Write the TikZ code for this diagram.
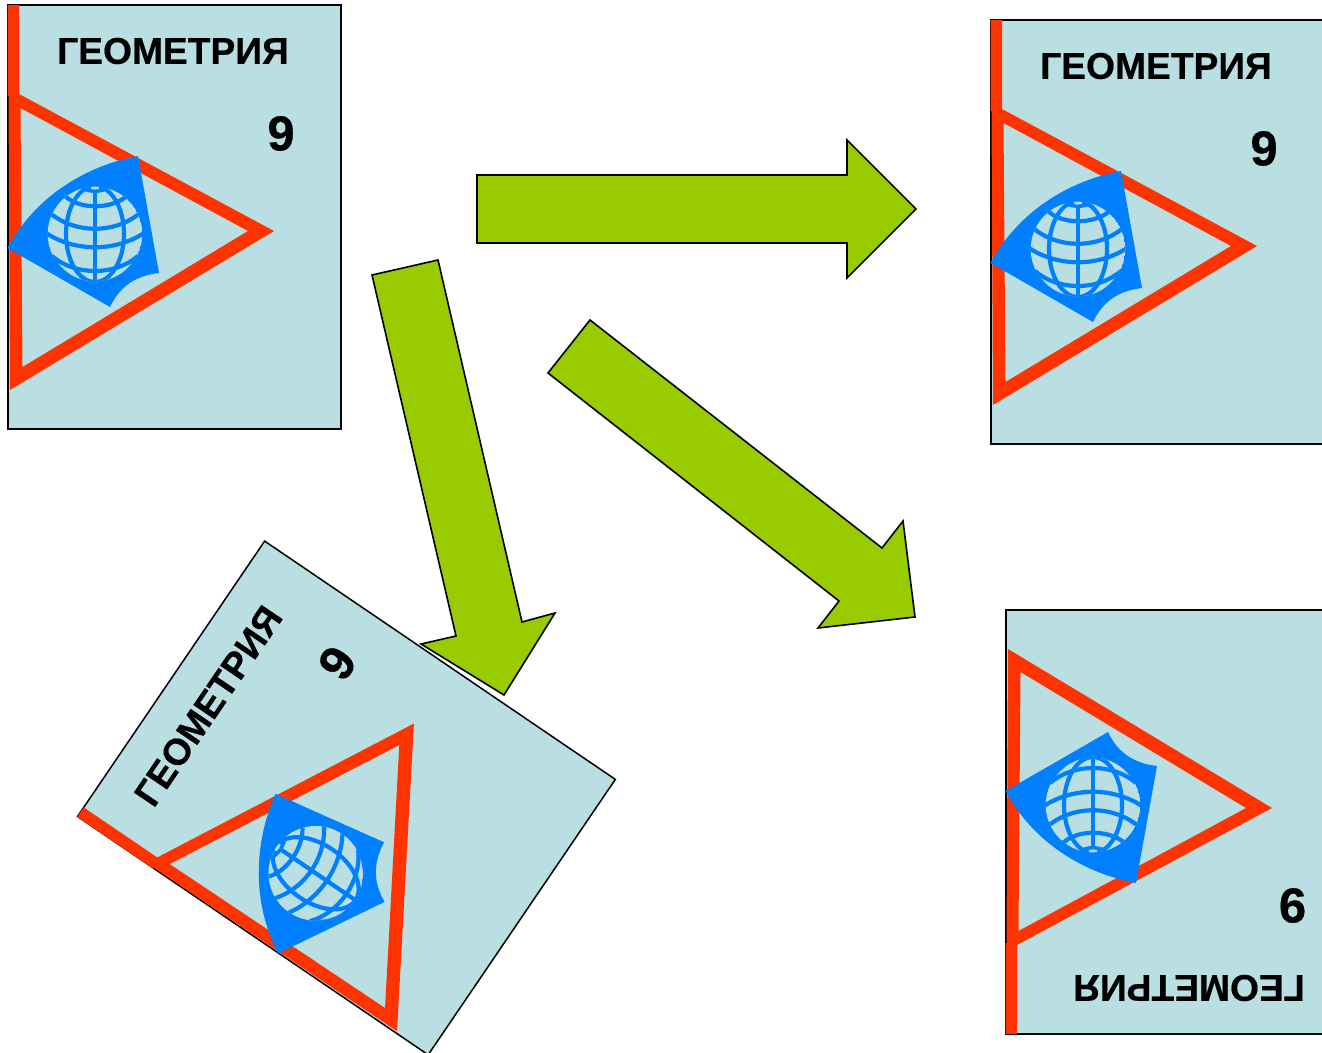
\documentclass[tikz,border=0pt]{standalone}
\usepackage{fontspec}
\setmainfont[BoldFeatures={FakeBold=0.5}]{Liberation Sans}
\definecolor{pagebg}{HTML}{BADFE2}
\definecolor{redline}{HTML}{FF3300}
\definecolor{globeblue}{HTML}{0080FF}
\definecolor{arrowgreen}{HTML}{99CC00}
\tikzset{
  bookpage/.style={fill=pagebg,draw=black,line width=1.5pt},
  redmark/.style={fill=redline,draw=none},
  bluemark/.style={fill=globeblue,draw=none},
  gridline/.style={draw=globeblue,line width=4.2pt},
  blockarrow/.style={fill=arrowgreen,draw=black,line width=1.6pt,line join=miter},
  titletext/.style={font=\fontsize{37.2}{38}\selectfont\bfseries,inner sep=0pt,transform shape,text=black},
  numtext/.style={font=\fontsize{49}{49}\selectfont\bfseries,inner sep=0pt,transform shape,text=black},
  uprighttext/.style={},
  turnedtext/.style={xscale=-1}
}
% #1 name prefix, #2 title x, #3 number x, #4 text style
\newcommand{\bookart}[4]{%
  \draw[bookpage] (8,5) rectangle (341,429);
  \fill[redmark,even odd rule]
    (7.5,5) -- (19,5) -- (19,94) -- (274,231) -- (10,390) -- (8.5,96) -- (7.5,96) -- cycle
    (20.5,108) -- (248,231) -- (22.5,367) -- cycle;
  \fill[bluemark] (138,156) -- (159,273) .. controls (132,276) and (118,290) .. (110,307)
    -- (7.5,248) .. controls (35,197) and (85,166) .. (138,156) -- cycle;
  \begin{scope}
    \clip (95,234) circle [radius=47.3];
    \fill[pagebg] (95,234) circle [radius=47.3];
    \draw[gridline] (95,185) -- (95,283);
    \draw[gridline] (95,234) ellipse [x radius=29,y radius=48];
    \draw[gridline] (64,195) .. controls (78,210) and (112,210) .. (128,195);
    \draw[gridline] (50,213) .. controls (75,234) and (115,234) .. (140,213);
    \draw[gridline] (46,233) .. controls (75,252) and (115,252) .. (144,233);
    \draw[gridline] (52,256) .. controls (75,276) and (115,276) .. (138,256);
    \fill[bluemark] (95,188) ellipse [x radius=13,y radius=5];
    \fill[pagebg] (95,188) ellipse [x radius=4.5,y radius=1.6];
    \fill[bluemark] (55,258) .. controls (60,267) and (68,274) .. (77,278) -- (50,290) -- cycle;
    \fill[bluemark] (135,258) .. controls (130,267) and (122,274) .. (113,278) -- (140,290) -- cycle;
  \end{scope}
  \node[titletext,#4] (#1title) at (#2,51) {ГЕОМЕТРИЯ};
  \node[numtext,#4] (#1num) at (#3,133.5) {9};
}
\begin{document}
\begin{tikzpicture}[x=1pt,y=-1pt]
  \useasboundingbox (0,0) rectangle (1322,1052);
  \clip (0,0) rectangle (1322,1052);
  \draw[blockarrow] (477,175) -- (847,175) -- (847,140) -- (916,209) -- (847,278) -- (847,243) -- (477,243) -- cycle;
  \draw[blockarrow] (372,275) -- (438,260) -- (522,622) -- (555,613) -- (504,695) -- (421,644) -- (456,636) -- cycle;
  \draw[blockarrow] (590,320) -- (548,373) -- (839,601) -- (818,628) -- (915,617) -- (903,521) -- (882,548) -- cycle;
  \begin{scope}
    \bookart{a}{173}{281}{uprighttext}
  \end{scope}
  \begin{scope}[shift={(983,15)}]
    \bookart{b}{173}{281}{uprighttext}
  \end{scope}
  \begin{scope}[shift={(1006,1034)},yscale=-1,shift={(-8,-5)}]
    \bookart{c}{191}{294.5}{turnedtext}
  \end{scope}
  \begin{scope}[shift={(77.5,816.5)},rotate=55.8,shift={(-8,-5)}]
    \bookart{d}{173}{281}{uprighttext}
  \end{scope}
\end{tikzpicture}
\end{document}
